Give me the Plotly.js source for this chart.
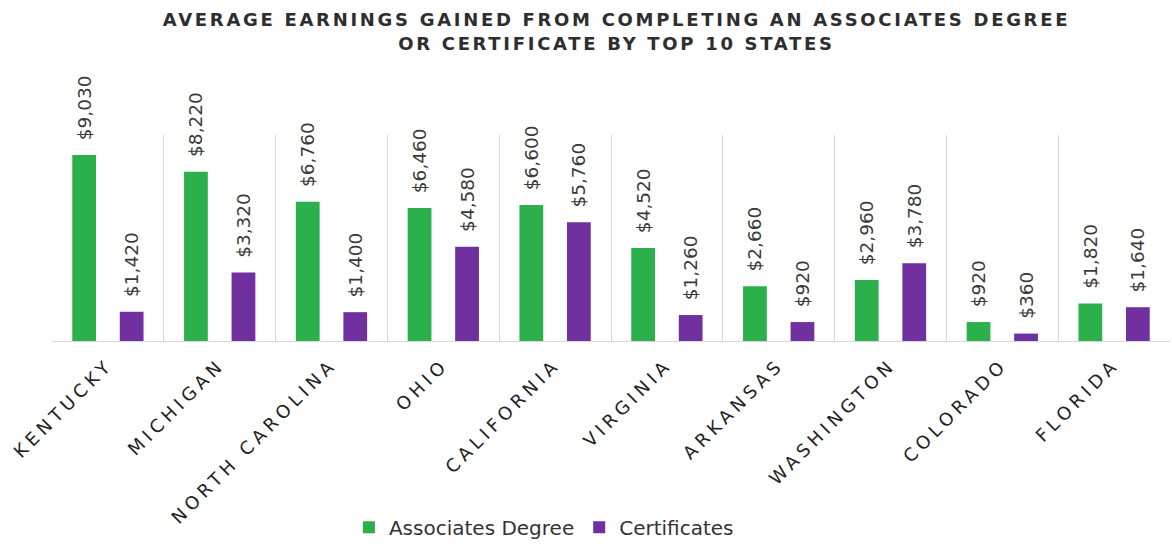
<!DOCTYPE html>
<html>
<head>
<meta charset="utf-8">
<script src="https://cdn.plot.ly/plotly-3.0.1.min.js"></script>
<style>
html,body{margin:0;padding:0;background:#fff;}
#chart{width:1172px;height:544px;}
.xtick text{letter-spacing:4.5px;}
.gtitle{letter-spacing:2.7px;}
</style>
</head>
<body>
<div id="chart"></div>
<script>
const states = ["KENTUCKY","MICHIGAN","NORTH CAROLINA","OHIO","CALIFORNIA","VIRGINIA","ARKANSAS","WASHINGTON","COLORADO","FLORIDA"];
const associates = [9030,8220,6760,6460,6600,4520,2660,2960,920,1820];
const certificates = [1420,3320,1400,4580,5760,1260,920,3780,360,1640];
const seriesNames = ["Associates Degree","Certificates"];

const labelFont = {family:"DejaVu Sans", size:18.5, color:"#3a3a3a"};
const tmpl = "\u00a0\u00a0$%{y:,}";

const traces = [
  {type:"bar", name:seriesNames[0], x:states, y:associates, marker:{color:"#2bb04c"},
   texttemplate:tmpl, textposition:"outside", textangle:-90, textfont:labelFont,
   cliponaxis:false, constraintext:"none", hoverinfo:"skip"},
  {type:"bar", name:seriesNames[1], x:states, y:certificates, marker:{color:"#7030a0"},
   texttemplate:tmpl, textposition:"outside", textangle:-90, textfont:labelFont,
   cliponaxis:false, constraintext:"none", hoverinfo:"skip"}
];

const layout = {
  width:1172, height:544,
  margin:{l:52, r:2, t:135, b:203},
  paper_bgcolor:"#ffffff", plot_bgcolor:"#ffffff",
  title:{text:"AVERAGE EARNINGS GAINED FROM COMPLETING AN ASSOCIATES DEGREE<br>OR CERTIFICATE BY TOP 10 STATES",
         font:{family:"DejaVu Sans", size:18, color:"#2e2e2e", weight:"bold"},
         x:0.526, xanchor:"center", y:0.952, yanchor:"top"},
  barmode:"group", bargap:0.15, bargroupgap:0.5,
  showlegend:true,
  legend:{orientation:"h", x:0.44, xanchor:"center", yref:"container", y:0.031, yanchor:"middle",
          font:{family:"DejaVu Sans", size:20, color:"#333333"}, traceorder:"normal"},
  xaxis:{type:"category", tickson:"boundaries", showgrid:true, gridcolor:"#d9d9d9", gridwidth:1,
         ticks:"", tickangle:-45, ticklabelstandoff:5,
         tickfont:{family:"DejaVu Sans", size:18, color:"#222222"},
         showline:true, linecolor:"#d9d9d9", linewidth:1, automargin:false, fixedrange:true},
  yaxis:{range:[0,10000], showgrid:false, zeroline:false, showticklabels:false, ticks:"", showline:false, fixedrange:true}
};

Plotly.newPlot("chart", traces, layout, {staticPlot:true, displayModeBar:false});
</script>
</body>
</html>
